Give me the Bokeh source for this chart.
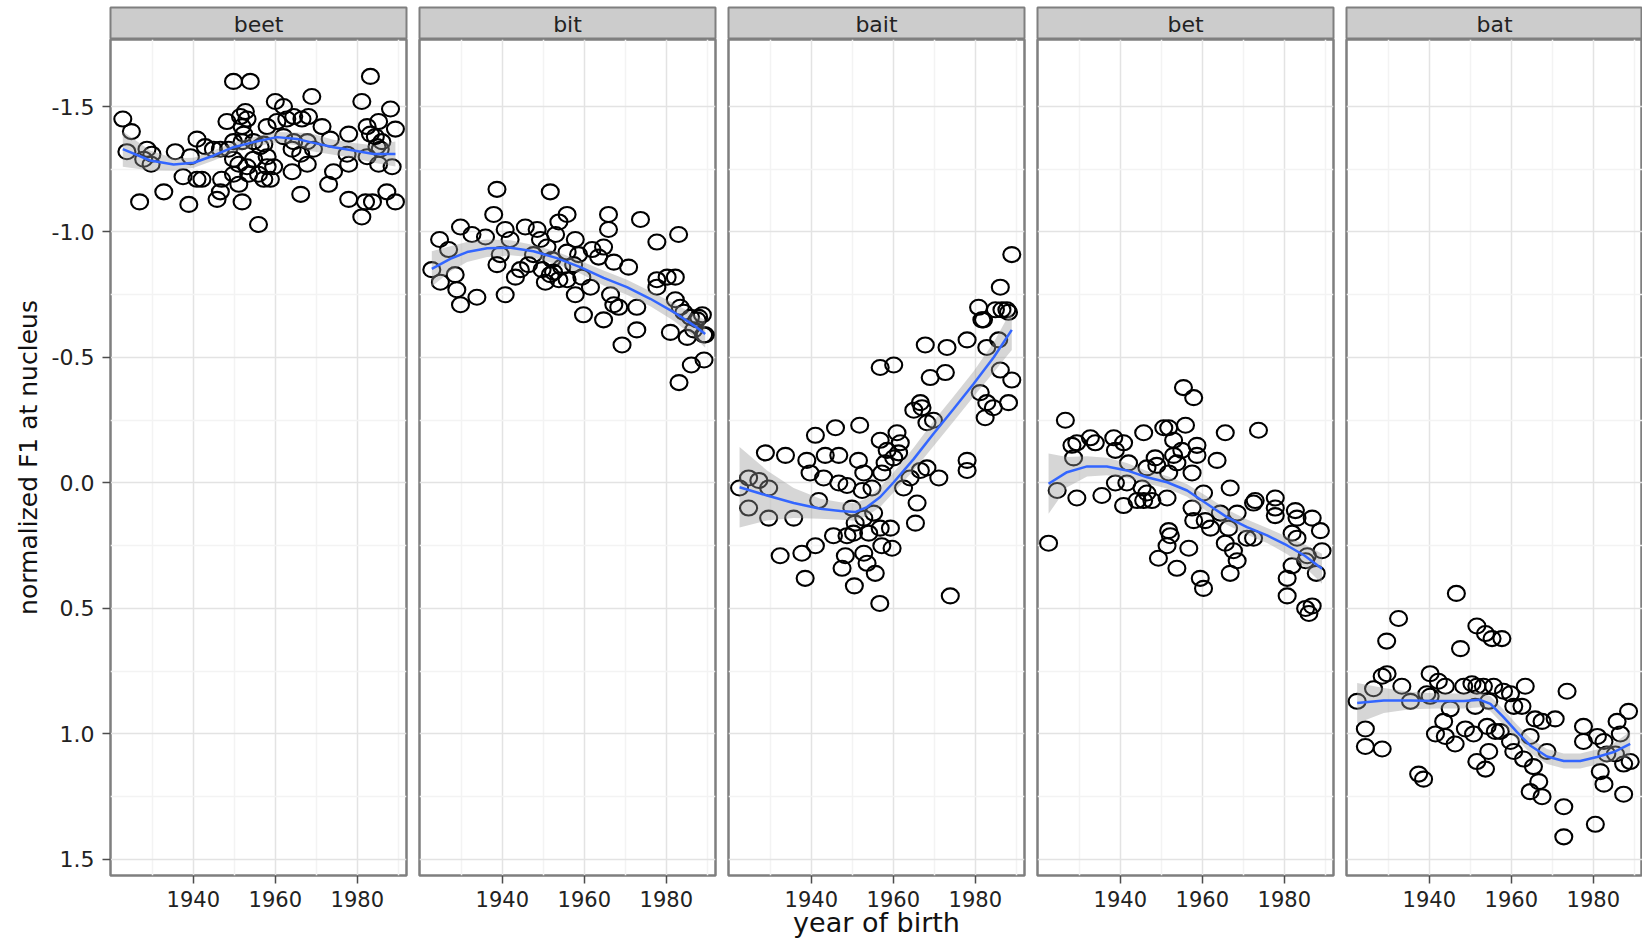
from bokeh.plotting import figure
from bokeh.layouts import gridplot
from bokeh.models import Range1d, FixedTicker, PrintfTickFormatter
from bokeh.embed import file_html
from bokeh.resources import INLINE
from bokeh.core.properties import value

# ---------------------------------------------------------------- data
vowels = ["beet", "bit", "bait", "bet", "bat"]

beet_year = [1922.8, 1924.9, 1923.8, 1926.9, 1928.7, 1929.9, 1927.9, 1929.7, 1932.8, 1935.6,
             1937.5, 1938.9, 1939.3, 1940.9, 1940.9, 1942.9, 1944.9, 1946.6, 1946.9, 1945.8,
             1946.6, 1949.8, 1953.9, 1948.2, 1951.5, 1952.7, 1953.1, 1951.9, 1952.3, 1951.9,
             1949.8, 1951.1, 1953.1, 1954.7, 1951.1, 1951.9, 1955.9, 1953.5, 1955.9, 1957.2,
             1958.0, 1958.0, 1960.0, 1962.0, 1960.4, 1962.8, 1964.5, 1966.5, 1968.1, 1968.9,
             1971.4, 1973.4, 1964.1, 1966.2, 1967.8, 1964.1, 1959.6, 1958.8, 1966.2, 1973.0,
             1974.2, 1977.9, 1977.9, 1977.9, 1981.1, 1983.2, 1982.4, 1983.2, 1985.2, 1984.4,
             1986.0, 1985.6, 1985.2, 1988.5, 1988.1, 1989.3, 1982.0, 1983.7, 1981.1, 1987.2,
             1989.3, 1977.5, 1982.4, 1984.8, 1964.5, 1969.3, 1954.7, 1956.3, 1958.0, 1957.2,
             1949.8, 1948.6, 1962.0, 1967.8, 1949.8, 1942.1]
beet_f1 = [-1.45, -1.40, -1.32, -1.12, -1.33, -1.31, -1.29, -1.27, -1.16, -1.32,
           -1.22, -1.11, -1.30, -1.37, -1.21, -1.34, -1.33, -1.33, -1.21, -1.13,
           -1.16, -1.60, -1.60, -1.44, -1.46, -1.48, -1.45, -1.42, -1.39, -1.36,
           -1.29, -1.27, -1.26, -1.29, -1.19, -1.12, -1.03, -1.23, -1.23, -1.21,
           -1.30, -1.42, -1.52, -1.50, -1.44, -1.45, -1.46, -1.45, -1.46, -1.54,
           -1.42, -1.37, -1.33, -1.31, -1.27, -1.24, -1.26, -1.21, -1.15, -1.19,
           -1.24, -1.39, -1.27, -1.13, -1.52, -1.62, -1.42, -1.39, -1.44, -1.38,
           -1.36, -1.33, -1.27, -1.26, -1.49, -1.41, -1.12, -1.12, -1.06, -1.16,
           -1.12, -1.31, -1.30, -1.34, -1.36, -1.33, -1.36, -1.34, -1.26, -1.35,
           -1.36, -1.33, -1.38, -1.36, -1.23, -1.21]

bit_year = [1922.8, 1924.7, 1926.9, 1924.9, 1928.5, 1928.9, 1929.8, 1929.8, 1932.6, 1933.8,
            1935.9, 1938.7, 1937.9, 1938.7, 1940.7, 1940.7, 1939.5, 1941.9, 1945.6, 1948.5,
            1943.2, 1944.4, 1946.4, 1947.6, 1949.3, 1949.7, 1951.7, 1953.8, 1955.8, 1950.9,
            1952.1, 1951.7, 1953.8, 1953.0, 1955.8, 1957.8, 1957.4, 1958.6, 1955.8, 1957.8,
            1959.4, 1959.8, 1961.5, 1961.9, 1963.5, 1964.7, 1965.9, 1965.9, 1967.2, 1964.7,
            1966.4, 1967.2, 1968.4, 1969.2, 1970.8, 1972.8, 1972.8, 1973.7, 1977.7, 1983.0,
            1977.7, 1980.2, 1982.2, 1977.7, 1982.2, 1981.0, 1984.3, 1985.9, 1987.5, 1988.8,
            1986.7, 1989.1, 1985.1, 1986.1, 1989.2, 1983.1, 1983.4, 1987.9, 1989.5, 1952.5,
            1954.5, 1950.5]
bit_f1 = [-0.85, -0.97, -0.93, -0.80, -0.83, -0.77, -0.71, -1.02, -0.99, -0.74,
          -0.98, -1.17, -1.07, -0.87, -1.01, -0.75, -0.91, -0.97, -1.02, -1.01,
          -0.82, -0.85, -0.87, -0.91, -0.97, -0.85, -1.16, -1.04, -1.07, -0.94,
          -0.89, -0.83, -0.81, -0.99, -0.92, -0.97, -0.87, -0.91, -0.81, -0.75,
          -0.82, -0.67, -0.78, -0.93, -0.90, -0.94, -1.07, -1.01, -0.88, -0.65,
          -0.75, -0.71, -0.70, -0.55, -0.86, -0.70, -0.61, -1.05, -0.96, -0.99,
          -0.81, -0.82, -0.82, -0.78, -0.73, -0.60, -0.68, -0.66, -0.65, -0.67,
          -0.61, -0.59, -0.58, -0.47, -0.49, -0.40, -0.70, -0.66, -0.59, -0.84,
          -0.86, -0.80]

bait_year = [1922.5, 1924.7, 1927.2, 1929.6, 1924.7, 1929.6, 1935.7, 1928.8, 1933.7, 1938.9,
             1939.7, 1941.0, 1945.9, 1951.8, 1943.4, 1946.7, 1943.0, 1946.7, 1948.7, 1941.8,
             1951.5, 1952.8, 1952.4, 1954.8, 1956.8, 1956.8, 1960.1, 1960.9, 1961.7, 1961.3,
             1958.0, 1957.2, 1949.9, 1950.7, 1952.8, 1955.2, 1945.4, 1948.7, 1950.3, 1954.0,
             1956.8, 1959.3, 1957.2, 1959.7, 1941.0, 1937.7, 1932.4, 1948.3, 1952.8, 1947.5,
             1953.6, 1955.6, 1938.5, 1950.5, 1956.7, 1973.9, 1965.8, 1965.4, 1962.5, 1964.1,
             1966.6, 1968.2, 1971.1, 1965.0, 1966.6, 1967.0, 1968.2, 1969.0, 1967.8, 1973.1,
             1972.7, 1978.0, 1978.0, 1978.0, 1980.8, 1982.0, 1984.9, 1987.7, 1986.1, 1988.9,
             1982.8, 1985.7, 1986.1, 1988.9, 1981.2, 1982.8, 1984.4, 1982.4, 1988.1, 1958.5,
             1960.1, 1969.8, 1981.6, 1986.5, 1988.1]
bait_f1 = [0.02, -0.02, -0.01, 0.02, 0.10, 0.14, 0.14, -0.12, -0.11, -0.09,
           -0.04, -0.19, -0.22, -0.23, -0.11, -0.11, -0.02, 0.00, 0.01, 0.07,
           -0.09, -0.04, 0.03, 0.02, -0.17, -0.46, -0.47, -0.20, -0.16, -0.12,
           -0.08, -0.04, 0.10, 0.16, 0.14, 0.12, 0.21, 0.21, 0.20, 0.20,
           0.18, 0.18, 0.25, 0.26, 0.25, 0.28, 0.29, 0.29, 0.28, 0.34,
           0.32, 0.36, 0.38, 0.41, 0.48, 0.45, 0.08, 0.16, 0.02, -0.02,
           -0.05, -0.06, -0.02, -0.29, -0.32, -0.30, -0.24, -0.42, -0.55, -0.54,
           -0.44, -0.57, -0.09, -0.05, -0.70, -0.65, -0.69, -0.69, -0.78, -0.91,
           -0.54, -0.57, -0.45, -0.41, -0.36, -0.32, -0.30, -0.26, -0.32, -0.13,
           -0.10, -0.25, -0.65, -0.69, -0.68]

bet_year = [1922.5, 1924.6, 1926.6, 1928.2, 1929.4, 1928.6, 1929.4, 1932.7, 1933.9, 1935.5,
            1938.4, 1940.8, 1938.8, 1938.8, 1940.8, 1942.0, 1945.7, 1944.1, 1945.3, 1946.5,
            1947.7, 1948.5, 1948.9, 1950.6, 1951.8, 1953.0, 1955.0, 1955.9, 1955.4, 1957.9,
            1953.0, 1953.8, 1951.8, 1951.4, 1951.8, 1952.2, 1951.4, 1949.3, 1953.8, 1956.7,
            1958.7, 1958.7, 1957.5, 1957.5, 1957.9, 1960.3, 1960.7, 1962.0, 1963.6, 1965.6,
            1966.8, 1964.4, 1966.4, 1968.5, 1965.6, 1967.6, 1966.8, 1959.5, 1960.3, 1968.5,
            1970.9, 1972.5, 1973.7, 1977.8, 1977.8, 1977.8, 1982.7, 1983.1, 1986.8, 1988.8,
            1981.9, 1983.1, 1989.2, 1985.6, 1981.9, 1987.8, 1980.7, 1980.7, 1986.8, 1985.2,
            1986.0, 1985.2, 1945.7, 1941.6, 1946.5, 1972.9, 1972.5]
bet_f1 = [0.24, 0.03, -0.25, -0.15, -0.16, -0.10, 0.06, -0.18, -0.16, 0.05,
          -0.18, -0.16, -0.13, 0.00, 0.09, -0.08, -0.20, 0.07, 0.02, 0.04,
          0.07, -0.10, -0.07, -0.22, -0.22, -0.17, -0.13, -0.23, -0.38, -0.34,
          -0.11, -0.08, -0.04, 0.06, 0.19, 0.21, 0.25, 0.30, 0.34, 0.26,
          -0.15, -0.11, -0.04, 0.10, 0.15, 0.04, 0.15, 0.18, -0.09, -0.20,
          0.02, 0.12, 0.18, 0.12, 0.24, 0.27, 0.36, 0.38, 0.42, 0.31,
          0.22, 0.08, -0.21, 0.06, 0.10, 0.13, 0.11, 0.14, 0.14, 0.19,
          0.20, 0.22, 0.27, 0.29, 0.33, 0.36, 0.38, 0.45, 0.49, 0.50,
          0.52, 0.31, 0.07, 0.00, -0.06, 0.07, 0.22]

bat_year = [1922.4, 1924.4, 1924.4, 1928.5, 1926.4, 1928.5, 1929.7, 1929.6, 1932.5, 1933.3,
            1935.4, 1937.4, 1938.6, 1940.2, 1942.2, 1939.4, 1941.5, 1943.5, 1943.9, 1945.1,
            1946.3, 1947.6, 1946.6, 1948.8, 1948.4, 1950.4, 1951.6, 1953.7, 1955.3, 1957.7,
            1951.6, 1953.2, 1951.2, 1954.5, 1955.7, 1950.8, 1954.1, 1956.1, 1954.5, 1951.6,
            1953.7, 1958.1, 1959.8, 1960.6, 1963.4, 1962.6, 1957.3, 1959.8, 1960.6, 1963.0,
            1964.6, 1965.4, 1964.6, 1967.5, 1966.7, 1967.5, 1970.7, 1968.7, 1972.8, 1972.8,
            1973.6, 1977.6, 1977.6, 1981.0, 1982.6, 1980.5, 1982.6, 1985.8, 1986.6, 1988.6,
            1987.4, 1985.4, 1981.7, 1987.4, 1989.0, 1983.3, 1965.8, 1943.9, 1940.2]
bat_f1 = [0.87, 0.98, 1.05, 1.06, 0.82, 0.77, 0.76, 0.63, 0.54, 0.81,
          0.87, 1.16, 1.18, 0.76, 0.79, 0.84, 1.00, 0.95, 1.01, 0.90,
          1.04, 0.66, 0.44, 0.98, 0.81, 0.80, 0.57, 0.60, 0.62, 0.62,
          0.81, 0.81, 0.89, 0.87, 0.81, 1.00, 0.97, 0.99, 1.07, 1.11,
          1.14, 0.83, 0.84, 0.89, 0.81, 0.89, 0.99, 1.03, 1.07, 1.10,
          1.01, 1.13, 1.23, 1.25, 1.19, 0.95, 0.94, 1.07, 1.29, 1.41,
          0.83, 0.97, 1.03, 1.01, 1.03, 1.36, 1.20, 0.95, 1.00, 0.91,
          1.24, 1.08, 1.15, 1.12, 1.11, 1.08, 0.94, 0.81, 0.85]

# smoothed trend (loess fit) and its standard-error half width
beet_fit_year = [1922.8, 1929.5, 1935.2, 1940.1, 1945.0, 1949.8, 1954.7, 1960.4, 1965.3, 1968.5, 1974.2, 1979.1, 1984.0, 1989.3]
beet_fit = [-1.330, -1.285, -1.269, -1.276, -1.305, -1.338, -1.358, -1.378, -1.371, -1.358, -1.338, -1.325, -1.311, -1.311]
beet_fit_se = [0.07, 0.04, 0.025, 0.02, 0.02, 0.02, 0.02, 0.02, 0.025, 0.035, 0.03, 0.03, 0.035, 0.05]

bit_fit_year = [1922.8, 1927.3, 1931.4, 1936.3, 1942.0, 1947.6, 1953.3, 1959.0, 1964.7, 1970.4, 1976.1, 1981.8, 1986.7, 1989.5]
bit_fit = [-0.853, -0.893, -0.920, -0.935, -0.937, -0.923, -0.896, -0.860, -0.817, -0.780, -0.734, -0.681, -0.628, -0.594]
bit_fit_se = [0.07, 0.05, 0.04, 0.035, 0.03, 0.025, 0.025, 0.025, 0.03, 0.03, 0.03, 0.035, 0.045, 0.055]

bait_fit_year = [1922.5, 1929.2, 1935.7, 1942.2, 1947.1, 1950.7, 1953.6, 1956.8, 1960.1, 1965.0, 1969.8, 1974.7, 1979.6, 1984.5, 1988.9]
bait_fit = [0.017, 0.050, 0.080, 0.103, 0.112, 0.116, 0.096, 0.056, -0.003, -0.096, -0.196, -0.295, -0.395, -0.501, -0.610]
bait_fit_se = [0.16, 0.10, 0.06, 0.04, 0.035, 0.035, 0.035, 0.04, 0.04, 0.045, 0.05, 0.05, 0.05, 0.06, 0.08]

bet_fit_year = [1922.5, 1927.0, 1931.9, 1936.7, 1941.6, 1946.5, 1951.4, 1956.3, 1961.1, 1966.0, 1970.9, 1975.8, 1980.7, 1985.0, 1989.2]
bet_fit = [0.003, -0.043, -0.066, -0.066, -0.050, -0.023, -0.003, 0.030, 0.083, 0.136, 0.176, 0.209, 0.249, 0.290, 0.342]
bet_fit_se = [0.12, 0.06, 0.04, 0.035, 0.03, 0.025, 0.025, 0.025, 0.03, 0.03, 0.03, 0.03, 0.035, 0.045, 0.06]

bat_fit_year = [1922.4, 1928.9, 1935.4, 1941.9, 1948.4, 1952.4, 1954.9, 1958.1, 1961.4, 1964.6, 1968.7, 1972.8, 1976.8, 1980.9, 1985.0, 1989.0]
bat_fit = [0.877, 0.867, 0.867, 0.869, 0.869, 0.864, 0.880, 0.933, 0.993, 1.046, 1.090, 1.108, 1.108, 1.092, 1.072, 1.040]
bat_fit_se = [0.08, 0.05, 0.035, 0.03, 0.03, 0.03, 0.03, 0.03, 0.03, 0.03, 0.03, 0.03, 0.03, 0.03, 0.035, 0.05]

y_ticks = [-1.5, -1.0, -0.5, 0.0, 0.5, 1.0, 1.5]
y_minor = [-1.25, -0.75, -0.25, 0.25, 0.75, 1.25]
x_ticks = [1940, 1960, 1980]
x_minor = [1930, 1950, 1970, 1990]

series = {
    "beet": (beet_year, beet_f1, beet_fit_year, beet_fit, beet_fit_se),
    "bit": (bit_year, bit_f1, bit_fit_year, bit_fit, bit_fit_se),
    "bait": (bait_year, bait_f1, bait_fit_year, bait_fit, bait_fit_se),
    "bet": (bet_year, bet_f1, bet_fit_year, bet_fit, bet_fit_se),
    "bat": (bat_year, bat_f1, bat_fit_year, bat_fit, bat_fit_se),
}

# ---------------------------------------------------------------- style
FONT = "DejaVu Sans"
TEXT_DARK = "#222222"
FRAME_W = 296
FRAME_H = 836
STRIP_H = 32
LEFT = 110

x_range = Range1d(1919.8, 1992.0)
y_range = Range1d(1.564, -1.767)   # reversed: -1.5 at top


def borders(i):
    left = LEFT if i == 0 else 7
    right = 0 if i == len(vowels) - 1 else 6
    return left, right


strips, panels = [], []
for i, name in enumerate(vowels):
    left, right = borders(i)

    # facet strip
    s = figure(frame_width=FRAME_W, frame_height=STRIP_H, x_range=(0, 1), y_range=(0, 1),
               x_axis_location=None, y_axis_location=None, toolbar_location=None,
               output_backend="svg", min_border_left=left, min_border_right=right,
               min_border_top=7, min_border_bottom=0)
    s.grid.visible = False
    s.background_fill_color = "#cccccc"
    s.outline_line_color = "#7f7f7f"
    s.outline_line_width = 2
    s.text(x=[0.5], y=[0.47], text=[name], text_align="center", text_baseline="middle",
           text_font=value(FONT), text_font_size="22px", text_color=TEXT_DARK)
    strips.append(s)

    # data panel
    p = figure(frame_width=FRAME_W, frame_height=FRAME_H, x_range=x_range, y_range=y_range,
               y_axis_location="left" if i == 0 else None, toolbar_location=None,
               output_backend="svg", min_border_left=left, min_border_right=right,
               min_border_top=0, min_border_bottom=66)
    p.background_fill_color = "white"
    p.outline_line_color = "#7f7f7f"
    p.outline_line_width = 2.5

    p.xaxis.ticker = FixedTicker(ticks=x_ticks, minor_ticks=x_minor)
    p.xgrid.grid_line_color = "#e3e3e3"
    p.xgrid.grid_line_width = 1.5
    p.xgrid.minor_grid_line_color = "#f3f3f3"
    p.xgrid.minor_grid_line_width = 1.5
    p.ygrid.ticker = FixedTicker(ticks=y_ticks, minor_ticks=y_minor)
    p.ygrid.grid_line_color = "#e3e3e3"
    p.ygrid.grid_line_width = 1.5
    p.ygrid.minor_grid_line_color = "#f3f3f3"
    p.ygrid.minor_grid_line_width = 1.5

    for ax in p.axis:
        ax.axis_line_color = None
        ax.major_tick_line_color = "#4d4d4d"
        ax.major_tick_line_width = 1.5
        ax.major_tick_in = 0
        ax.major_tick_out = 8
        ax.minor_tick_line_color = None
        ax.major_label_text_font = FONT
        ax.major_label_text_color = TEXT_DARK
        ax.axis_label_text_font = FONT
        ax.axis_label_text_font_style = "normal"
        ax.axis_label_text_color = "#111111"

    p.xaxis.major_label_text_font_size = "21px"
    p.xaxis.major_label_standoff = 7
    p.xaxis.axis_label_standoff = -3
    p.xaxis.axis_label_text_font_size = "27px"
    if i == 2:
        p.xaxis.axis_label = "year of birth"

    if i == 0:
        p.yaxis.ticker = FixedTicker(ticks=y_ticks, minor_ticks=y_minor)
        p.yaxis.formatter = PrintfTickFormatter(format="%.1f")
        p.yaxis.major_label_text_font_size = "22px"
        p.yaxis.major_label_standoff = 8
        p.yaxis.axis_label_standoff = 6
        p.yaxis.axis_label_text_font_size = "25px"
        p.yaxis.axis_label = "normalized F1 at nucleus"

    yrs, f1, fy, fv, fse = series[name]
    p.ellipse(x=yrs, y=f1, width=17, height=15, width_units="screen", height_units="screen",
              fill_color=None, line_color="black", line_width=2.1)
    lower = [v - e for v, e in zip(fv, fse)]
    upper = [v + e for v, e in zip(fv, fse)]
    p.varea(x=fy, y1=lower, y2=upper, fill_color="#999999", fill_alpha=0.4)
    p.line(x=fy, y=fv, line_color="#3366FF", line_width=2.5)
    panels.append(p)

grid = gridplot([strips, panels], toolbar_location=None)

open("out.html", "w").write(file_html(grid, INLINE))
